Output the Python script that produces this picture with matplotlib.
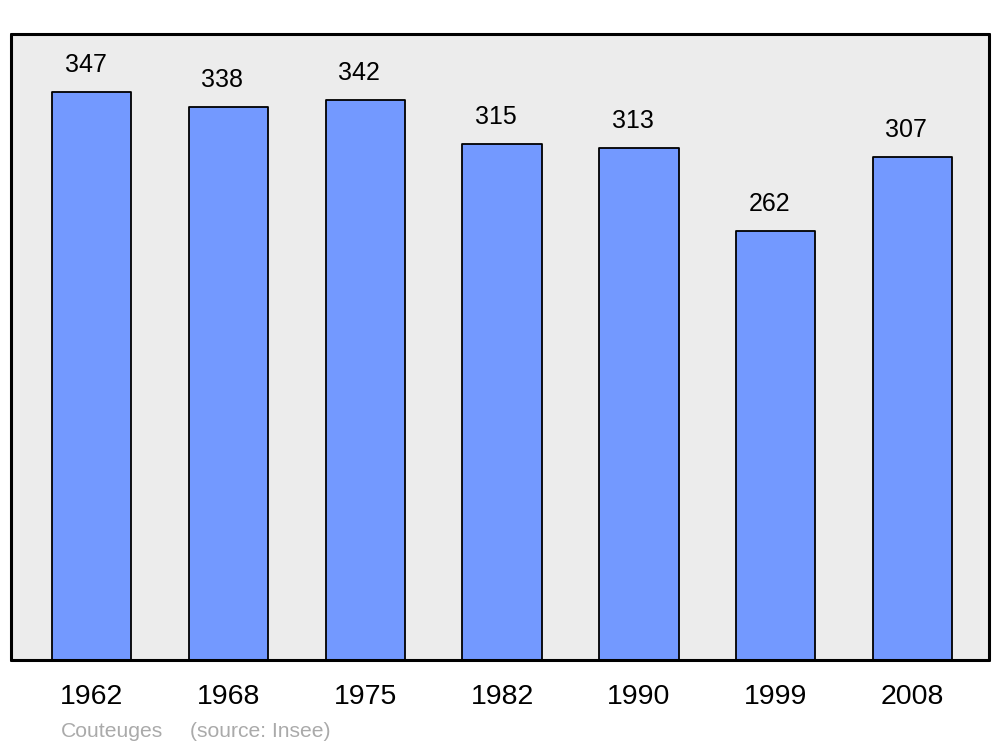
import matplotlib.pyplot as plt

plt.rcParams['font.family'] = ['Liberation Sans', 'DejaVu Sans']

years = ["1962", "1968", "1975", "1982", "1990", "1999", "2008"]
population = [347, 338, 342, 315, 313, 262, 307]

fig = plt.figure(figsize=(10, 7.47), dpi=100)
ax = fig.add_axes([0.011, 0.1165, 0.978, 0.838])
ax.set_facecolor("#ececec")

x = list(range(len(years)))
bars = ax.bar(x, population, width=0.58, color="#7399ff", edgecolor="black",
              linewidth=1.3, zorder=2)
for b in bars:
    b.set_joinstyle("round")

for xi, v in zip(x, population):
    ax.annotate(str(v), (xi, v), xytext=(-6, 20), textcoords="offset pixels",
                ha="center", va="baseline", fontsize=18, color="black")

ax.set_xlim(-0.59, 6.56)
ax.set_ylim(0, 382.4)
ax.set_yticks([])
ax.set_xticks(x)
ax.set_xticklabels(years, fontsize=20.5)
ax.tick_params(axis="x", length=0, pad=17)
for lbl in ax.get_xticklabels():
    lbl.set_x(lbl.get_position()[0])
for s in ax.spines.values():
    s.set_linewidth(2.2)
    s.set_joinstyle("round")
    s.set_capstyle("round")

fig.text(0.061, 0.0135, "Couteuges", fontsize=15.2, color="#aaaaaa", ha="left", va="baseline")
fig.text(0.190, 0.0135, "(source: Insee)", fontsize=15.2, color="#aaaaaa", ha="left", va="baseline")

fig.savefig("out.png", dpi=100)
